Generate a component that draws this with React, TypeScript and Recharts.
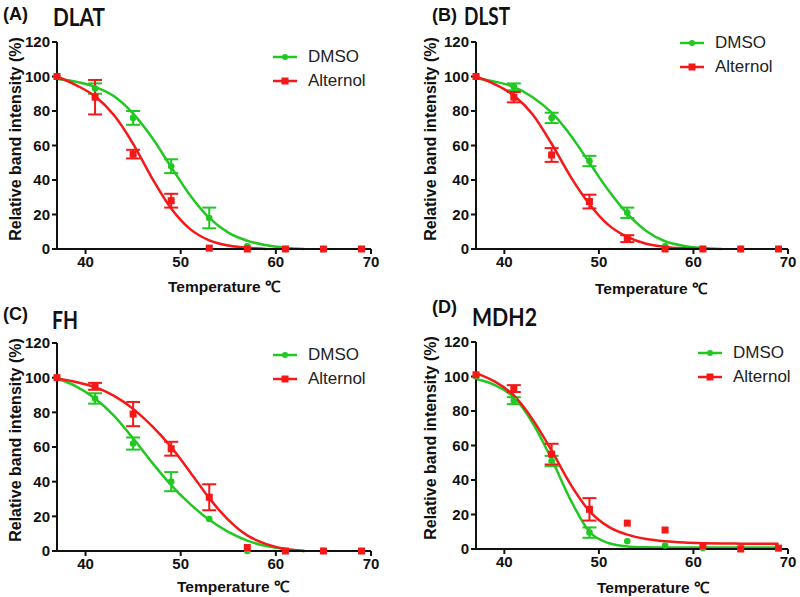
import React from 'react';
import { ComposedChart, Line, Scatter, XAxis, YAxis, ErrorBar, Legend } from 'recharts';

// ---------- data ----------
const temps = [37, 41, 45, 49, 53, 57, 61, 65, 69];
const fitTemps = [37, 39, 41, 43, 45, 47, 49, 51, 53, 55, 57, 59, 61, 63, 65, 67, 69];
const xTicks = [40, 50, 60, 70];
const yTicks = [0, 20, 40, 60, 80, 100, 120];
const seriesNames = ['DMSO', 'Alternol'];

// (A) DLAT
const dlatDmso = [100, 93, 76, 48, 18, 1.5, 0, 0, 0];
const dlatDmsoErr = [0, 3, 4, 4, 6, 0, 0, 0, 0];
const dlatAlt = [100, 88, 55, 28, 0.5, 0, 0, 0, 0];
const dlatAltErr = [0, 10, 2.5, 4, 0, 0, 0, 0, 0];
const dlatDmsoFit = [98.5, 97, 94, 88.5, 78.5, 64.5, 47.5, 31, 18, 9.5, 4.8, 2.2, 0.8, 0];
const dlatAltFit = [100, 95, 88.5, 77.5, 61, 41, 23.5, 11.5, 5, 2, 0.7, 0];

// (B) DLST
const dlstDmso = [100, 94, 76, 51, 21, 1.5, 0, 0, 0];
const dlstDmsoErr = [0, 2, 3, 3, 3, 0, 0, 0, 0];
const dlstAlt = [100, 88, 54.5, 27.5, 6, 0, 0, 0, 0];
const dlstAltErr = [0, 3, 4, 4, 2, 0, 0, 0, 0];
const dlstDmsoFit = [99, 97, 94, 88, 79, 66, 50, 34, 20.5, 10.5, 4.5, 1.8, 0.6, 0];
const dlstAltFit = [100, 95.5, 89, 78, 61, 42, 26, 14, 7, 3, 1.2, 0.4, 0];

// (C) FH
const fhDmso = [100, 88, 62, 40, 18.5, 0, 0, 0, 0];
const fhDmsoErr = [0, 3, 3.5, 5.5, 0, 0, 0, 0, 0];
const fhAlt = [100, 95, 79, 59, 31, 2, 0, 0, 0];
const fhAltErr = [0, 2, 7, 4, 7.5, 0, 0, 0, 0];
const fhDmsoFit = [99.5, 95, 88, 78, 65, 51, 38, 27, 18, 11, 6, 2.8, 1, 0];
const fhAltFit = [99.5, 97.5, 94.5, 89.5, 82, 72, 60, 45.5, 30.5, 18, 9, 4, 1.2, 0];

// (D) MDH2
const mdhDmso = [100, 86, 51, 9.5, 4.5, 2, 0.6, 0.5, 0.5];
const mdhDmsoErr = [0, 2, 3, 3, 0, 0, 0, 0, 0];
const mdhAlt = [101, 93, 55, 23, 15, 11, 2, 0, 0.5];
const mdhAltErr = [0, 2, 6, 6.5, 0, 0, 0, 0, 0];
const mdhDmsoFit = [98.5, 95, 88, 73, 52, 28.5, 10, 3.5, 1.5, 1, 0.8, 0.8, 0.8, 0.8, 0.8, 0.8, 0.8];
const mdhAltFit = [102, 97, 89, 75, 57, 37.5, 22, 13, 8.3, 5.8, 4.5, 3.8, 3.4, 3.2, 3.1, 3, 3];

// ---------- styles ----------
const GREEN = '#22c822';
const RED = '#f51818';
const AXIS = '#111';
const FONT = '"Liberation Sans", Arial, sans-serif';
const TITLE_FONT = 'Lato, "Liberation Sans", sans-serif';

const toPts = (ys: number[], errs: number[]) => temps.map((x, i) => ({ x, y: ys[i], err: errs[i] }));
const toFit = (ys: number[]) => ys.map((y, i) => ({ x: fitTemps[i], y }));

const circleShape = (p: any) => <circle cx={p.cx} cy={p.cy} r={3.3} fill={GREEN} />;
const squareShape = (p: any) => <rect x={p.cx - 3.5} y={p.cy - 3.5} width={7} height={7} fill={RED} />;

const LegendBox = () => (
  <div style={{ fontFamily: FONT, fontSize: 17, color: '#222' }}>
    {seriesNames.map((n, i) => (
      <div key={n} style={{ display: 'flex', alignItems: 'center', height: 24 }}>
        <svg width={24} height={10}>
          <line x1={0} y1={5} x2={24} y2={5} stroke={i === 0 ? GREEN : RED} strokeWidth={2.5} />
          {i === 0 ? <circle cx={12} cy={5} r={3} fill={GREEN} /> : <rect x={8.5} y={1.5} width={7} height={7} fill={RED} />}
        </svg>
        <span style={{ marginLeft: 11 }}>{n}</span>
      </div>
    ))}
  </div>
);

type PanelProps = {
  left: number; top: number; height: number; yWidth: number;
  margin: { top: number; right: number; left: number; bottom: number };
  legendPos: { left: number; top: number };
  dmso: any[]; alt: any[]; dmsoFit: any[]; altFit: any[];
};

const tickStyle = { fill: AXIS, fontSize: 15, fontWeight: 700, fontFamily: FONT };

const Panel = (p: PanelProps) => (
  <div style={{ position: 'absolute', left: p.left, top: p.top }}>
    <ComposedChart width={400} height={p.height} margin={p.margin}>
      <XAxis
        type="number" dataKey="x" domain={[37, 70]} ticks={xTicks} height={30}
        axisLine={{ stroke: AXIS, strokeWidth: 2 }} tickLine={{ stroke: AXIS, strokeWidth: 2 }}
        tickSize={5} tick={tickStyle} interval={0}
      />
      <YAxis
        type="number" dataKey="y" domain={[0, 120]} ticks={yTicks} width={p.yWidth}
        axisLine={{ stroke: AXIS, strokeWidth: 2 }} tickLine={{ stroke: AXIS, strokeWidth: 2 }}
        tickSize={5} tick={tickStyle} interval={0}
      />
      <Line data={p.dmsoFit} dataKey="y" type="monotone" stroke={GREEN} strokeWidth={2.5} dot={false} isAnimationActive={false} name="DMSO fit" />
      <Scatter data={p.dmso} dataKey="y" shape={circleShape} isAnimationActive={false} name="DMSO">
        <ErrorBar dataKey="err" direction="y" width={7} strokeWidth={2} stroke={GREEN} />
      </Scatter>
      <Line data={p.altFit} dataKey="y" type="monotone" stroke={RED} strokeWidth={2.5} dot={false} isAnimationActive={false} name="Alternol fit" />
      <Scatter data={p.alt} dataKey="y" shape={squareShape} isAnimationActive={false} name="Alternol">
        <ErrorBar dataKey="err" direction="y" width={7} strokeWidth={2} stroke={RED} />
      </Scatter>
      <Legend
        layout="vertical" align="center" verticalAlign="middle"
        wrapperStyle={{ left: p.legendPos.left, top: p.legendPos.top, width: 120 }}
        content={() => <LegendBox />}
      />
    </ComposedChart>
  </div>
);

const YLabel = ({ x, y }: { x: number; y: number }) => (
  <text x={x} y={y} transform={`rotate(-90, ${x}, ${y})`} textAnchor="middle" dominantBaseline="central"
    fontFamily={FONT} fontWeight={700} fontSize={16} fill={AXIS}>Relative band intensity (%)</text>
);
const XLabel = ({ x, y }: { x: number; y: number }) => (
  <text x={x} y={y} textAnchor="middle" dominantBaseline="central"
    fontFamily={FONT} fontWeight={700} fontSize={15.5} fill={AXIS}>Temperature ℃</text>
);
const Title = ({ x, y, letter, tx, ty, name, w }: { x: number; y: number; letter: string; tx: number; ty: number; name: string; w: number }) => (
  <g>
    <text x={x} y={y} dominantBaseline="central" fontFamily={FONT} fontWeight={700} fontSize={18} fill={AXIS}>{letter}</text>
    <text x={tx} y={ty} dominantBaseline="central" fontFamily={TITLE_FONT} fontWeight={700} fontSize={25} fill={AXIS}
      textLength={w} lengthAdjust="spacingAndGlyphs">{name}</text>
  </g>
);

export default function App() {
  return (
    <div style={{ position: 'relative', width: 800, height: 597, background: '#fff', overflow: 'hidden' }}>
      <style>{'body{margin:0}'}</style>
      <Panel left={0} top={0} height={300} yWidth={57} margin={{ top: 42, right: 29, left: 0, bottom: 21 }}
        legendPos={{ left: 273, top: 45 }}
        dmso={toPts(dlatDmso, dlatDmsoErr)} alt={toPts(dlatAlt, dlatAltErr)}
        dmsoFit={toFit(dlatDmsoFit)} altFit={toFit(dlatAltFit)} />
      <Panel left={400} top={0} height={300} yWidth={76} margin={{ top: 42, right: 12, left: 0, bottom: 21 }}
        legendPos={{ left: 280, top: 31 }}
        dmso={toPts(dlstDmso, dlstDmsoErr)} alt={toPts(dlstAlt, dlstAltErr)}
        dmsoFit={toFit(dlstDmsoFit)} altFit={toFit(dlstAltFit)} />
      <Panel left={0} top={300} height={297} yWidth={57} margin={{ top: 43, right: 29, left: 0, bottom: 16 }}
        legendPos={{ left: 273, top: 43 }}
        dmso={toPts(fhDmso, fhDmsoErr)} alt={toPts(fhAlt, fhAltErr)}
        dmsoFit={toFit(fhDmsoFit)} altFit={toFit(fhAltFit)} />
      <Panel left={400} top={300} height={297} yWidth={76} margin={{ top: 42, right: 12, left: 0, bottom: 18 }}
        legendPos={{ left: 298, top: 41 }}
        dmso={toPts(mdhDmso, mdhDmsoErr)} alt={toPts(mdhAlt, mdhAltErr)}
        dmsoFit={toFit(mdhDmsoFit)} altFit={toFit(mdhAltFit)} />
      <svg width={800} height={597} style={{ position: 'absolute', left: 0, top: 0, pointerEvents: 'none' }}>
        <Title x={3} y={14} letter="(A)" tx={53} ty={16} name="DLAT" w={52} />
        <Title x={432} y={15} letter="(B)" tx={464} ty={15} name="DLST" w={46} />
        <Title x={3} y={314} letter="(C)" tx={52} ty={319} name="FH" w={26} />
        <Title x={432} y={307} letter="(D)" tx={472} ty={316} name="MDH2" w={65} />
        <YLabel x={15} y={139} />
        <YLabel x={430} y={139} />
        <YLabel x={15} y={440} />
        <YLabel x={430} y={438} />
        <XLabel x={224} y={286} />
        <XLabel x={651} y={288} />
        <XLabel x={233} y={586} />
        <XLabel x={653} y={587} />
      </svg>
    </div>
  );
}
